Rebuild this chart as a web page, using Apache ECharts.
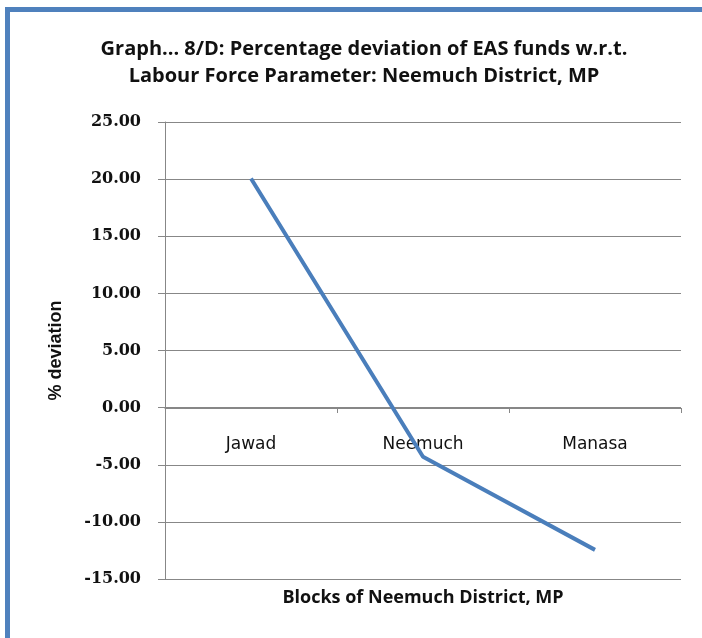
<!DOCTYPE html>
<html>
<head>
<meta charset="utf-8">
<script src="https://cdn.jsdelivr.net/npm/echarts@6/dist/echarts.min.js"></script>
<style>
html,body{margin:0;padding:0;background:#fff;}
#chart{width:702px;height:638px;}
</style>
</head>
<body>
<div id="chart"></div>
<script>
const categories = ['Jawad', 'Neemuch', 'Manasa'];
const deviation = [20.05, -4.3, -12.45];
const yTicks = { min: -15, max: 25, interval: 5 };
const titleLines = ['Graph... 8/D: Percentage deviation of EAS funds w.r.t.', 'Labour Force Parameter: Neemuch District, MP'];
const xAxisName = 'Blocks of Neemuch District, MP';
const yAxisName = '% deviation';

const chart = echarts.init(document.getElementById('chart'), null, { renderer: 'canvas' });
const gray = '#878787';
chart.setOption({
  animation: false,
  backgroundColor: '#ffffff',
  title: {
    text: titleLines.join('\n'),
    left: 359, top: 31, textAlign: 'center',
    textStyle: { fontFamily: 'Open Sans', fontWeight: 'bold', fontSize: 20, color: '#111', lineHeight: 27 }
  },
  graphic: [
    { type: 'rect', shape: { x: 5, y: 7, width: 697, height: 5 }, style: { fill: '#4F81BD' } },
    { type: 'rect', shape: { x: 5, y: 7, width: 5, height: 631 }, style: { fill: '#4F81BD' } }
  ],
  grid: { left: 165, right: 21, top: 122, bottom: 59, containLabel: false, outerBoundsMode: 'none' },
  xAxis: {
    type: 'category',
    data: categories,
    boundaryGap: true,
    position: 'bottom',
    offset: -171,
    name: xAxisName,
    nameLocation: 'middle',
    nameGap: 181,
    nameTextStyle: { fontFamily: 'Open Sans', fontWeight: 'bold', fontSize: 18, color: '#111' },
    axisLine: { onZero: false, lineStyle: { color: gray, width: 1 } },
    axisTick: { show: true, length: 5, lineStyle: { color: gray } },
    axisLabel: { margin: 28, fontFamily: 'DejaVu Sans', fontSize: 17, color: '#111' },
    splitLine: { show: false }
  },
  yAxis: {
    type: 'value',
    min: yTicks.min, max: yTicks.max, interval: yTicks.interval,
    name: yAxisName,
    nameLocation: 'middle',
    nameGap: 100,
    nameRotate: 90,
    nameTextStyle: { fontFamily: 'Liberation Sans', fontWeight: 'bold', fontSize: 18, color: '#111' },
    axisLine: { show: true, lineStyle: { color: gray, width: 1 } },
    axisTick: { show: true, length: 7, lineStyle: { color: gray } },
    axisLabel: { margin: 24, fontFamily: 'DejaVu Serif', fontWeight: 'bold', fontSize: 16, color: '#111',
      formatter: v => v.toFixed(2) },
    splitLine: { show: true, lineStyle: { color: gray, width: 1 } }
  },
  series: [{
    type: 'line',
    data: deviation,
    symbol: 'none',
    lineStyle: { color: '#4A7EBB', width: 4 },
    z: 5
  }]
});
</script>
</body>
</html>
